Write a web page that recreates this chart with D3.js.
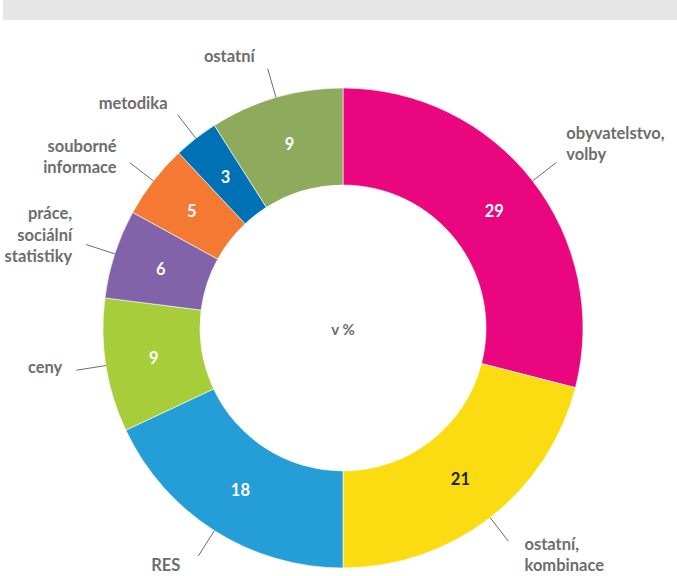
<!DOCTYPE html>
<html>
<head>
<meta charset="utf-8">
<script src="https://cdn.jsdelivr.net/npm/d3@7"></script>
<style>
  body { margin: 0; background: #fff; }
  svg { display: block; }
  text { font-family: Lato, "Open Sans", sans-serif; }
</style>
</head>
<body>
<svg id="chart" width="677" height="576"></svg>
<script>
// data, clockwise from 12 o'clock
const categories = [
  ['obyvatelstvo,', 'volby'],
  ['ostatní,', 'kombinace'],
  ['RES'],
  ['ceny'],
  ['práce,', 'sociální', 'statistiky'],
  ['souborné', 'informace'],
  ['metodika'],
  ['ostatní']
];
const values = [29, 21, 18, 9, 6, 5, 3, 9];
const colors = ['#e9067f', '#fbdc13', '#259ed8', '#a7ce3a', '#8262a9', '#f47a33', '#0071b4', '#8eaa5d'];
const valueColors = ['#fff', '#231f20', '#fff', '#fff', '#fff', '#fff', '#fff', '#fff'];
const centerLabel = 'v %';

const svg = d3.select('#chart');
const cx = 343, cy = 328;
const outerR = 240, innerR = 143, tickR = 270;

// grey band on top
svg.append('rect')
  .attr('x', 3).attr('y', 0)
  .attr('width', 674).attr('height', 20)
  .attr('fill', '#e6e6e6');

const data = values.map((v, i) => ({ value: v, label: categories[i], color: colors[i], vcol: valueColors[i] }));

const pie = d3.pie().sort(null).value(d => d.value);
const arc = d3.arc().innerRadius(innerR).outerRadius(outerR);
const arcs = pie(data);

const g = svg.append('g').attr('transform', `translate(${cx},${cy})`);

g.selectAll('path.slice')
  .data(arcs)
  .enter()
  .append('path')
  .attr('class', 'slice')
  .attr('d', arc)
  .attr('fill', d => d.data.color)
  .attr('stroke', '#fff')
  .attr('stroke-width', 0.6);

// values inside the ring
g.selectAll('text.val')
  .data(arcs)
  .enter()
  .append('text')
  .attr('class', 'val')
  .attr('transform', d => `translate(${arc.centroid(d)})`)
  .attr('text-anchor', 'middle')
  .attr('dy', '0.36em')
  .attr('font-size', 16.5)
  .attr('font-weight', 700)
  .attr('fill', d => d.data.vcol)
  .text(d => d.data.value);

// leader lines + category labels
const mid = d => (d.startAngle + d.endAngle) / 2;
const pt = (a, r) => [Math.sin(a) * r, -Math.cos(a) * r];

g.selectAll('line.lead')
  .data(arcs)
  .enter()
  .append('line')
  .attr('class', 'lead')
  .attr('x1', d => pt(mid(d), outerR)[0])
  .attr('y1', d => pt(mid(d), outerR)[1])
  .attr('x2', d => pt(mid(d), tickR)[0])
  .attr('y2', d => pt(mid(d), tickR)[1])
  .attr('stroke', '#6d6d6d')
  .attr('stroke-width', 1);

// hand nudges for label placement (same order as slices)
const nudgeX = [0, 6, -8, -4, -4, -3, 0, -3];
const nudgeY = [-8, -1, -6, -6, -4, 5, 3, 5];

const lineH = 21.5;
const labels = g.selectAll('text.cat')
  .data(arcs)
  .enter()
  .append('text')
  .attr('class', 'cat')
  .attr('font-size', 16.5)
  .attr('font-weight', 700)
  .attr('fill', '#6d6d6d')
  .attr('text-anchor', d => Math.sin(mid(d)) >= 0 ? 'start' : 'end')
  .attr('transform', (d, i) => {
    const a = mid(d);
    const p = pt(a, tickR);
    const x = p[0] + (Math.sin(a) >= 0 ? 10 : -10) + nudgeX[i];
    const n = d.data.label.length;
    const yc = p[1] - 18 * Math.cos(a) + nudgeY[i];
    const y0 = yc - (n - 1) * lineH / 2;
    return `translate(${x},${y0})`;
  });

labels.selectAll('tspan')
  .data(d => d.data.label)
  .enter()
  .append('tspan')
  .attr('x', 0)
  .attr('y', (d, i) => i * lineH)
  .attr('dy', '0.35em')
  .text(d => d);

g.append('text')
  .attr('text-anchor', 'middle')
  .attr('y', 2)
  .attr('dy', '0.35em')
  .attr('font-size', 15)
  .attr('font-weight', 700)
  .attr('fill', '#6d6d6d')
  .text(centerLabel);
</script>
</body>
</html>
